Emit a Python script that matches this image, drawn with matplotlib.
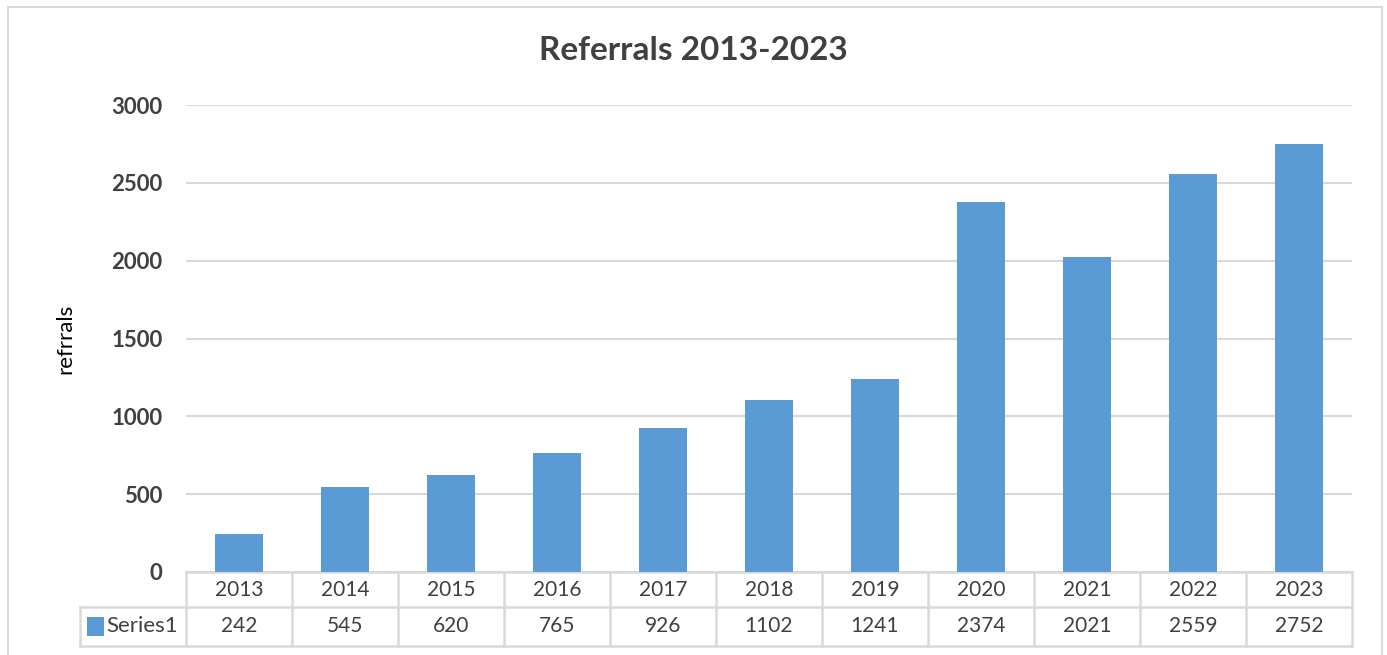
import matplotlib.pyplot as plt
from matplotlib.patches import Rectangle
from matplotlib.transforms import blended_transform_factory

years = ['2013', '2014', '2015', '2016', '2017', '2018',
         '2019', '2020', '2021', '2022', '2023']
referrals = [242, 545, 620, 765, 926, 1102, 1241, 2374, 2021, 2559, 2752]
series_name = 'Series1'

BAR = '#5B9BD5'
GRID = '#d9d9d9'
TEXT = '#404040'

plt.rcParams['font.family'] = ['Lato', 'DejaVu Sans']

fig = plt.figure(figsize=(13.87, 6.55), dpi=100)
W, H = 1387, 655

# outer chart frame
fig.patches.append(Rectangle((8 / W, -0.05), (1382 - 8) / W, 1 - 7 / H + 0.05,
                             transform=fig.transFigure, fill=False,
                             edgecolor=GRID, linewidth=1.5))

ax = fig.add_axes([186 / W, 1 - 572 / H, (1352 - 186) / W, (572 - 105) / H])
x = list(range(len(years)))
ax.bar(x, referrals, width=0.45, color=BAR, zorder=3)

ax.set_xlim(-0.5, len(years) - 0.5)
ax.set_ylim(0, 3000)
ax.set_yticks(range(0, 3001, 500))
ax.set_yticklabels([str(v) for v in range(0, 3001, 500)],
                   fontsize=16, fontweight='bold', color=TEXT)
ax.tick_params(axis='y', length=0, pad=17)
ax.set_xticks([])
ax.grid(axis='y', color=GRID, linewidth=1.5, zorder=0)
for s in ax.spines.values():
    s.set_visible(False)

ax.set_ylabel('refrrals', fontsize=16, color='black', labelpad=26)
fig.text(0.5, 1 - 51 / H, 'Referrals 2013-2023', ha='center', va='center',
         fontsize=24, fontweight='bold', color=TEXT)

# data table under the axis
tr = blended_transform_factory(ax.transData, ax.transAxes)
r1 = -35 / 467
r2 = -74 / 467
n = len(years)
kw = dict(color=GRID, linewidth=1.8, transform=tr, clip_on=False)
ax.plot([-0.5, n - 0.5], [0, 0], **kw)
ax.plot([-1.5, n - 0.5], [r1, r1], **kw)
ax.plot([-1.5, n - 0.5], [r2, r2], **kw)
for i in range(n + 1):
    ax.plot([i - 0.5, i - 0.5], [0, r2], **kw)
ax.plot([-1.5, -1.5], [r1, r2], **kw)

for i, (yr, v) in enumerate(zip(years, referrals)):
    ax.text(i, r1 / 2, yr, transform=tr, ha='center', va='center',
            fontsize=15, color=TEXT)
    ax.text(i, (r1 + r2) / 2, str(v), transform=tr, ha='center', va='center',
            fontsize=15, color=TEXT)

# legend key in the table
ax.add_patch(Rectangle((-1.43, (r1 + r2) / 2 - 0.02), 0.16, 0.04,
                       transform=tr, clip_on=False, facecolor=BAR,
                       edgecolor='none'))
ax.text(-1.25, (r1 + r2) / 2, series_name, transform=tr, ha='left',
        va='center', fontsize=16, color=TEXT)

fig.savefig('out.png', dpi=100)
